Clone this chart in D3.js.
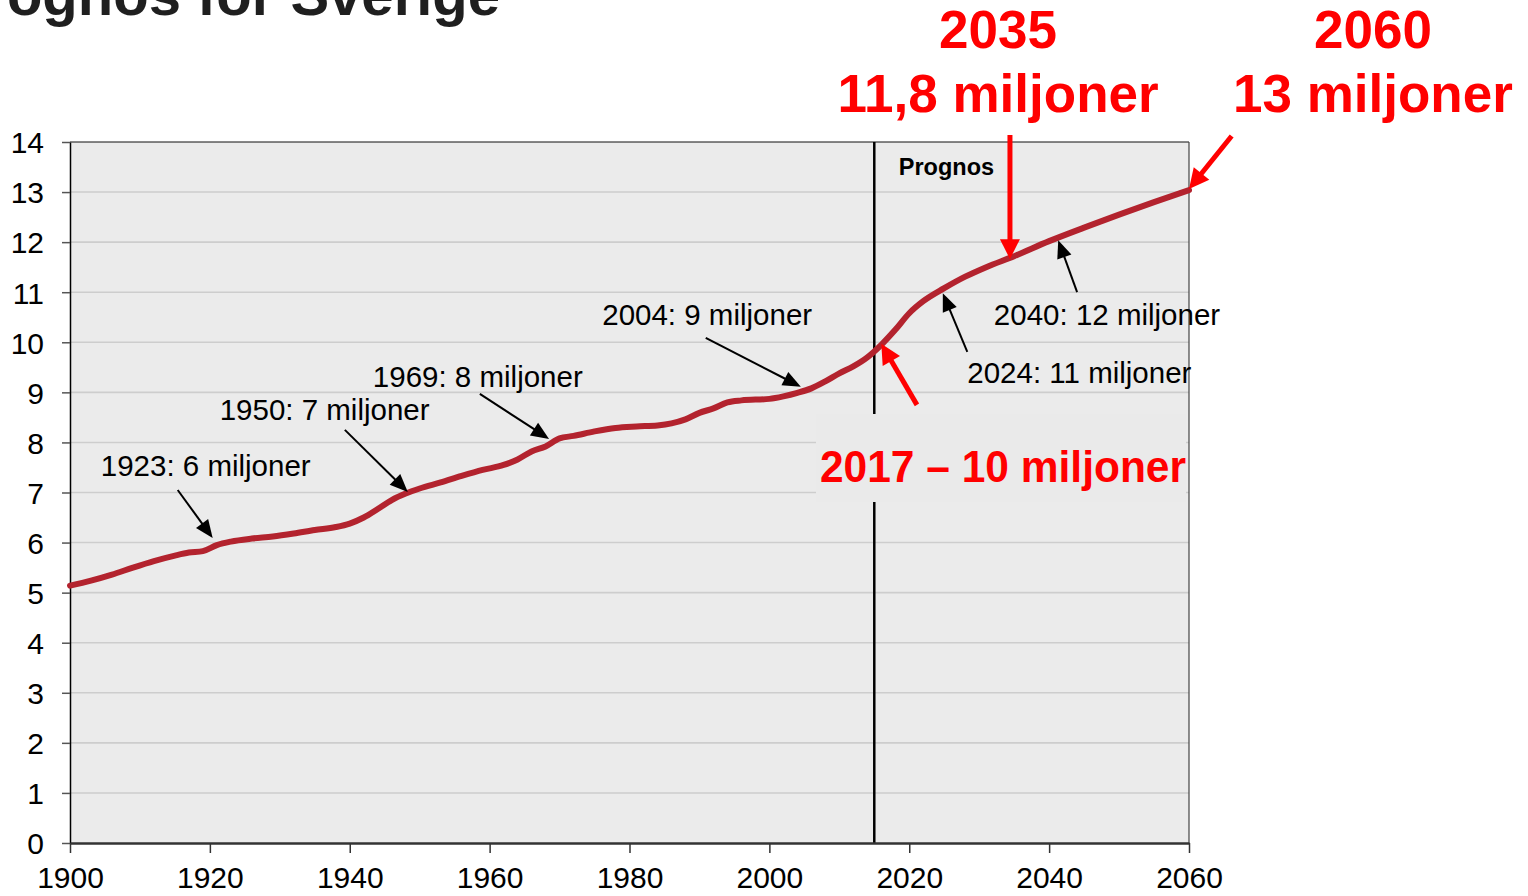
<!DOCTYPE html>
<html><head><meta charset="utf-8">
<script src="https://cdn.jsdelivr.net/npm/d3@7"></script>
<style>
html,body{margin:0;padding:0;background:#fff;}
svg{display:block;font-family:Arial,"Liberation Sans",sans-serif;}
</style></head>
<body><svg id="c" width="1528" height="896"></svg>
<script>
// ---- data ----
const years = [1900,1903,1906,1909,1912,1915,1917,1919,1921,1923,1926,1929,1932,1935,1938,1940,1942,1944,1946,1948,1950,1953,1956,1959,1962,1964,1966,1968,1970,1972,1975,1978,1981,1984,1986,1988,1990,1992,1994,1996,2000,2002,2004,2006,2008,2010,2012,2014,2016,2018,2020,2022,2025,2028,2031,2035,2040,2045,2050,2055,2060];
const population = [5.14,5.24,5.36,5.50,5.63,5.74,5.80,5.83,5.95,6.02,6.08,6.12,6.18,6.25,6.31,6.38,6.50,6.67,6.85,6.98,7.08,7.20,7.33,7.45,7.55,7.66,7.82,7.92,8.08,8.13,8.22,8.29,8.32,8.34,8.38,8.46,8.59,8.68,8.80,8.84,8.87,8.92,8.99,9.08,9.22,9.38,9.52,9.70,9.95,10.25,10.58,10.82,11.08,11.31,11.50,11.72,12.02,12.29,12.55,12.80,13.04];
const yTicks = [0,1,2,3,4,5,6,7,8,9,10,11,12,13,14];
const xTicks = [1900,1920,1940,1960,1980,2000,2020,2040,2060];
const prognosYear = 2015;
const title = "Prognos för Sverige";
// black annotations: label, label position (year,value), arrow start, arrow tip
const noteLabels = ["1923: 6 miljoner","1950: 7 miljoner","1969: 8 miljoner","2004: 9 miljoner","2024: 11 miljoner","2040: 12 miljoner"];
const noteTextPos = [[1904.4,7.33],[1921.4,8.45],[1943.3,9.11],[1976.1,10.35],[2028.3,9.19],[2032.1,10.35]];
const noteFrom = [[1915.4,7.05],[1939.3,8.25],[1958.6,8.97],[1990.9,10.09],[2028.3,9.81],[2044.0,11.0]];
const noteTo = [[1920.4,6.09],[1948.3,7.01],[1968.5,8.07],[2004.5,9.11],[2024.8,10.98],[2041.3,12.04]];
// red highlights
const redTop = [["2035","11,8 miljoner"],["2060","13 miljoner"]];
const redTopYear = [2032.7,2086.3];
const redFrom = [[2034.4,14.14],[2066.1,14.12],[2021.1,8.75]];
const redTo = [[2034.4,11.66],[2060.0,13.06],[2016.0,9.97]];
const redBoxText = "2017 – 10 miljoner";

// ---- layout ----
const svg = d3.select("#c");
const x = d3.scaleLinear().domain([1900,2060]).range([70,1189]);
const y = d3.scaleLinear().domain([0,14]).range([843,142]);
const font = "Arial, 'Liberation Sans', sans-serif";

// title (cut off at top, as in the original slide)
svg.append("text").attr("x",500).attr("y",15).attr("text-anchor","end")
  .attr("font-size",58).attr("font-weight","bold").attr("fill","#1f1f1f").text(title);

// plot background
svg.append("rect").attr("x",x(1900)).attr("y",y(14)).attr("width",x(2060)-x(1900)).attr("height",y(0)-y(14)).attr("fill","#ebebeb");

// gridlines
svg.append("g").selectAll("line").data(yTicks.filter(d=>d>0 && d<14)).join("line")
  .attr("x1",x(1900)).attr("x2",x(2060)).attr("y1",d=>y(d)).attr("y2",d=>y(d))
  .attr("stroke","#cdcdcd").attr("stroke-width",1.6);

// top and right border
svg.append("line").attr("x1",x(1900)).attr("x2",x(2060)).attr("y1",y(14)).attr("y2",y(14)).attr("stroke","#111").attr("stroke-width",1.2);
svg.append("line").attr("x1",x(2060)).attr("x2",x(2060)).attr("y1",y(14)).attr("y2",y(0)).attr("stroke","#444").attr("stroke-width",1.2);

// prognos line
svg.append("line").attr("x1",x(prognosYear)).attr("x2",x(prognosYear)).attr("y1",y(14)).attr("y2",y(0))
  .attr("stroke","#000").attr("stroke-width",2.5);

// axes
const yAxis = d3.axisLeft(y).tickValues(yTicks).tickSize(8).tickSizeOuter(0).tickPadding(18).tickFormat(d3.format("d"));
const gy = svg.append("g").attr("transform",`translate(${x(1900)},0)`).call(yAxis);
gy.select(".domain").attr("stroke","#000").attr("stroke-width",1.5);
gy.selectAll(".tick line").attr("stroke","#555").attr("stroke-width",1.5);
gy.selectAll(".tick text").attr("font-family",font).attr("font-size",30).attr("fill","#000").attr("dy","0.36em");

const xAxis = d3.axisBottom(x).tickValues(xTicks).tickSize(10).tickSizeOuter(0).tickPadding(14).tickFormat(d3.format("d"));
const gx = svg.append("g").attr("transform",`translate(0,${y(0)})`).call(xAxis);
gx.select(".domain").attr("stroke","#333").attr("stroke-width",2.5);
gx.selectAll(".tick line").attr("stroke","#333").attr("stroke-width",1.5);
gx.selectAll(".tick text").attr("font-family",font).attr("font-size",30).attr("fill","#000").attr("dy","0.71em");

// population line
const line = d3.line().x((d,i)=>x(years[i])).y(d=>y(d)).curve(d3.curveMonotoneX);
svg.append("path").datum(population).attr("d",line).attr("fill","none")
  .attr("stroke","#b3232e").attr("stroke-width",6).attr("stroke-linejoin","round").attr("stroke-linecap","round");

// arrow helper
function arrow(p0,p1,color,lw,hl,hw){
  const x0=x(p0[0]),y0=y(p0[1]),x1=x(p1[0]),y1=y(p1[1]);
  const a=Math.atan2(y1-y0,x1-x0), ux=Math.cos(a), uy=Math.sin(a);
  const bx=x1-ux*hl, by=y1-uy*hl;
  svg.append("line").attr("x1",x0).attr("y1",y0).attr("x2",bx+ux*2).attr("y2",by+uy*2)
    .attr("stroke",color).attr("stroke-width",lw);
  const pts=[[x1,y1],[bx-uy*hw/2,by+ux*hw/2],[bx+uy*hw/2,by-ux*hw/2]];
  svg.append("polygon").attr("points",pts.map(p=>p.join(",")).join(" ")).attr("fill",color);
}

// black notes
noteLabels.forEach((t,i)=>{
  svg.append("text").attr("x",x(noteTextPos[i][0])).attr("y",y(noteTextPos[i][1]))
    .attr("font-size",29.5).attr("fill","#000").text(t);
  arrow(noteFrom[i],noteTo[i],"#000",2,18,15);
});

// Prognos label
svg.append("text").attr("x",x(2018.5)).attr("y",y(13.34)).attr("font-size",23.5).attr("font-weight","bold").attr("fill","#000").text("Prognos");

// red box label
const boxG = svg.append("g");
boxG.append("rect").attr("x",816).attr("y",414).attr("width",370).attr("height",88).attr("fill","#eaeaea");
boxG.append("text").attr("x",820).attr("y",482).attr("font-size",44).attr("font-weight","bold").attr("fill","#ff0000")
  .attr("textLength",366).attr("lengthAdjust","spacingAndGlyphs").text(redBoxText);

// red top labels
redTop.forEach((lines,i)=>{
  lines.forEach((t,j)=>{
    svg.append("text").attr("x",x(redTopYear[i])).attr("y",j===0?48:112).attr("text-anchor","middle")
      .attr("font-size",j===0?53:53).attr("font-weight","bold").attr("fill","#ff0000").text(t);
  });
});

// red arrows
redFrom.forEach((p,i)=>arrow(p,redTo[i],"#ff0000",5,20,20));
</script></body></html>
